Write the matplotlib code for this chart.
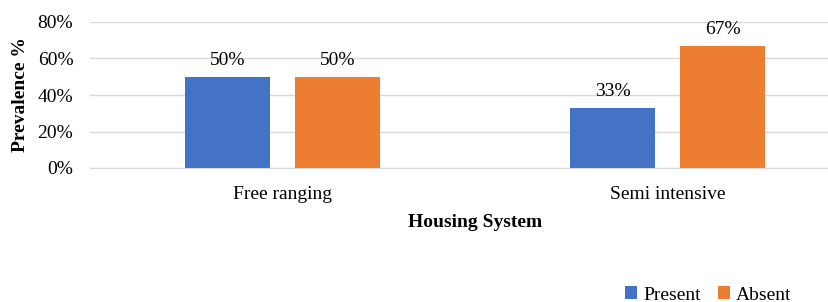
import matplotlib.pyplot as plt
import numpy as np

plt.rcParams['font.family'] = ['Liberation Serif', 'DejaVu Serif']

categories = ['Free ranging', 'Semi intensive']
present = [50, 33]
absent = [50, 67]

fig = plt.figure(figsize=(8.29, 3.02), dpi=100)
# axes run off the right edge, as in the original
ax = fig.add_axes([90 / 829, 1 - 168 / 302, 770 / 829, (168 - 22) / 302])

x = np.arange(len(categories))
w = 0.223
off = 0.143
b1 = ax.bar(x - off, present, w, color='#4472C4', label='Present')
b2 = ax.bar(x + off, absent, w, color='#ED7D31', label='Absent')

for bars, vals in [(b1, present), (b2, absent)]:
    for b, v in zip(bars, vals):
        ax.text(b.get_x() + b.get_width() / 2, v + 4, f'{v}%',
                ha='center', va='bottom', fontsize=14)

ax.set_xlim(-0.5, 1.5)
ax.set_ylim(0, 80)
ax.set_yticks(range(0, 81, 20))
ax.set_yticklabels([f'{t}%' for t in range(0, 81, 20)], fontsize=14)
ax.set_xticks(x)
ax.set_xticklabels(categories, fontsize=14)
ax.tick_params(axis='y', length=0, pad=12)
ax.tick_params(axis='x', length=0, pad=13)
ax.grid(axis='y', color='#D9D9D9', linewidth=1)
ax.set_axisbelow(True)
for s in ['top', 'right', 'left']:
    ax.spines[s].set_visible(False)
ax.spines['bottom'].set_color('#D9D9D9')

ax.set_xlabel('Housing System', fontsize=14, fontweight='bold', labelpad=8)
ax.set_ylabel('Prevalence %', fontsize=14, fontweight='bold', labelpad=6)

fig.legend(loc='lower left', bbox_to_anchor=(608 / 829, -0.063), ncol=2,
           frameon=False, fontsize=14, handlelength=0.6, handleheight=0.6,
           columnspacing=0.9, handletextpad=0.3)

fig.savefig('out.png', dpi=100)
